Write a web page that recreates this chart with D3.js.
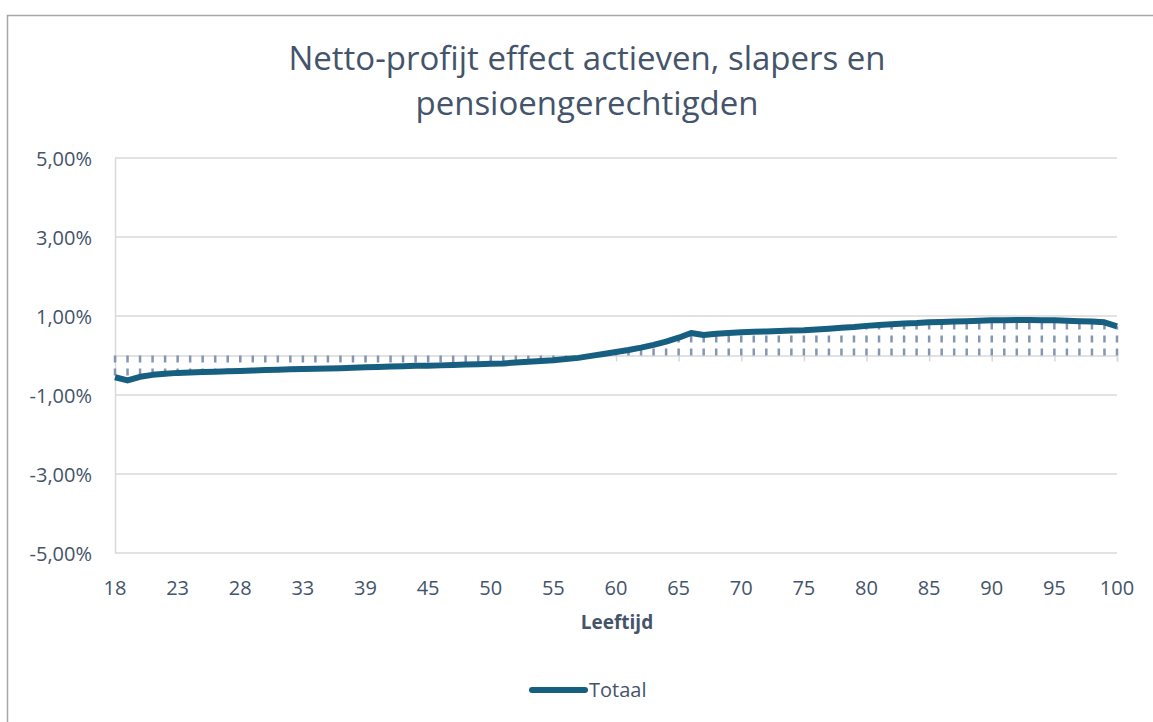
<!DOCTYPE html>
<html>
<head>
<meta charset="utf-8">
<script src="https://cdn.jsdelivr.net/npm/d3@7"></script>
<style>
  body { margin: 0; background: #fff; }
  svg text { font-family: "Open Sans", "Noto Sans", sans-serif; fill: #44546a; }
</style>
</head>
<body>
<div id="chart"></div>
<script>
// leeftijden (34→36 en 41→43 ontbreken in de bron-as)
var ages = [18,19,20,21,22,23,24,25,26,27,28,29,30,31,32,33,34,
  36,37,38,39,40,41,
  43,44,45,46,47,48,49,50,51,52,53,54,55,56,57,58,59,60,61,62,63,64,65,66,67,68,69,70,
  71,72,73,74,75,76,77,78,79,80,81,82,83,84,85,86,87,88,89,90,91,92,93,94,95,96,97,98,99,100];

// netto-profijt totaal, in procenten
var totaal = [-0.55,-0.63,-0.54,-0.49,-0.46,-0.44,-0.43,-0.42,-0.41,-0.40,-0.39,-0.38,-0.37,-0.36,-0.35,-0.34,-0.335,
  -0.33,-0.32,-0.31,-0.30,-0.29,-0.28,
  -0.27,-0.26,-0.26,-0.25,-0.24,-0.23,-0.22,-0.21,-0.20,-0.18,-0.16,-0.14,-0.12,-0.09,-0.06,-0.01,0.04,0.09,0.14,0.20,0.27,0.35,0.45,0.57,0.52,0.55,0.57,0.59,
  0.60,0.61,0.62,0.63,0.64,0.66,0.68,0.70,0.72,0.75,0.77,0.79,0.81,0.82,0.84,0.85,0.86,0.87,0.88,0.89,0.89,0.90,0.90,0.89,0.89,0.88,0.87,0.86,0.84,0.74];

var yTicks = [5, 3, 1, -1, -3, -5];
var title = ["Netto-profijt effect actieven, slapers en", "pensioengerechtigden"];
var xTitle = "Leeftijd";
var seriesName = "Totaal";

var W = 1153, H = 722;
var svg = d3.select("#chart").append("svg")
  .attr("width", W).attr("height", H);

// kader
svg.append("path")
  .attr("d", "M7.5," + H + "V15.5H" + W)
  .attr("fill", "none").attr("stroke", "#a6a6a6").attr("stroke-width", 1.5);

var x = d3.scalePoint().domain(d3.range(ages.length)).range([115, 1117]);
var y = d3.scaleLinear().domain([-5, 5]).range([553, 158]);

// titel
svg.selectAll(".title").data(title).enter().append("text")
  .attr("x", 587).attr("y", function (d, i) { return 70 + i * 45; })
  .attr("text-anchor", "middle").style("font-size", "33px")
  .text(function (d) { return d; });

// rasterlijnen
svg.append("g").selectAll("line").data(yTicks).enter().append("line")
  .attr("x1", 115).attr("x2", 1117)
  .attr("y1", function (d) { return y(d); }).attr("y2", function (d) { return y(d); })
  .attr("stroke", "#d9d9d9").attr("stroke-width", 1.5);

// y-as
var yAxis = d3.axisLeft(y).tickValues(yTicks).tickSize(0).tickPadding(23)
  .tickFormat(function (d) { return d3.format(".2f")(d).replace(".", ",").replace("\u2212", "-") + "%"; });
var gy = svg.append("g").attr("transform", "translate(115,0)").call(yAxis);
gy.select(".domain").attr("stroke", "#d9d9d9").attr("stroke-width", 1.5);
gy.selectAll("text").style("font-size", "20px").attr("dy", "0.36em");

// x-as op nul, labels onderaan
var tickIdx = d3.range(0, ages.length, 5);
var xAxis = d3.axisBottom(x).tickValues(tickIdx).tickSize(6).tickFormat("");
var gx = svg.append("g").attr("transform", "translate(0," + y(0) + ")").call(xAxis);
gx.select(".domain").attr("stroke", "#d9d9d9").attr("stroke-width", 1.5);
gx.selectAll(".tick line").attr("stroke", "#d9d9d9").attr("stroke-width", 1.5);

svg.append("g").selectAll("text").data(tickIdx).enter().append("text")
  .attr("x", function (d) { return x(d); }).attr("y", 595)
  .attr("text-anchor", "middle").style("font-size", "20px")
  .text(function (d) { return ages[d]; });

svg.append("text").attr("x", 617).attr("y", 629)
  .attr("text-anchor", "middle").style("font-size", "19px").style("font-weight", "bold")
  .text(xTitle);

// gestreept vlak tussen nul en de lijn
svg.append("g").selectAll("line").data(totaal).enter().append("line")
  .attr("x1", function (d, i) { return x(i); }).attr("x2", function (d, i) { return x(i); })
  .attr("y1", y(0)).attr("y2", function (d) { return y(d); })
  .attr("stroke", "#8496b0").attr("stroke-width", 2.5)
  .attr("stroke-dasharray", "7,6");

// lijn
var line = d3.line().x(function (d, i) { return x(i); }).y(function (d) { return y(d); });
svg.append("path").datum(totaal)
  .attr("d", line)
  .attr("fill", "none").attr("stroke", "#175f80").attr("stroke-width", 6)
  .attr("stroke-linejoin", "round");

// legenda
svg.append("line").attr("x1", 532).attr("x2", 585).attr("y1", 690).attr("y2", 690)
  .attr("stroke", "#175f80").attr("stroke-width", 6).attr("stroke-linecap", "round");
svg.append("text").attr("x", 589).attr("y", 697).style("font-size", "20px").text(seriesName);
</script>
</body>
</html>
